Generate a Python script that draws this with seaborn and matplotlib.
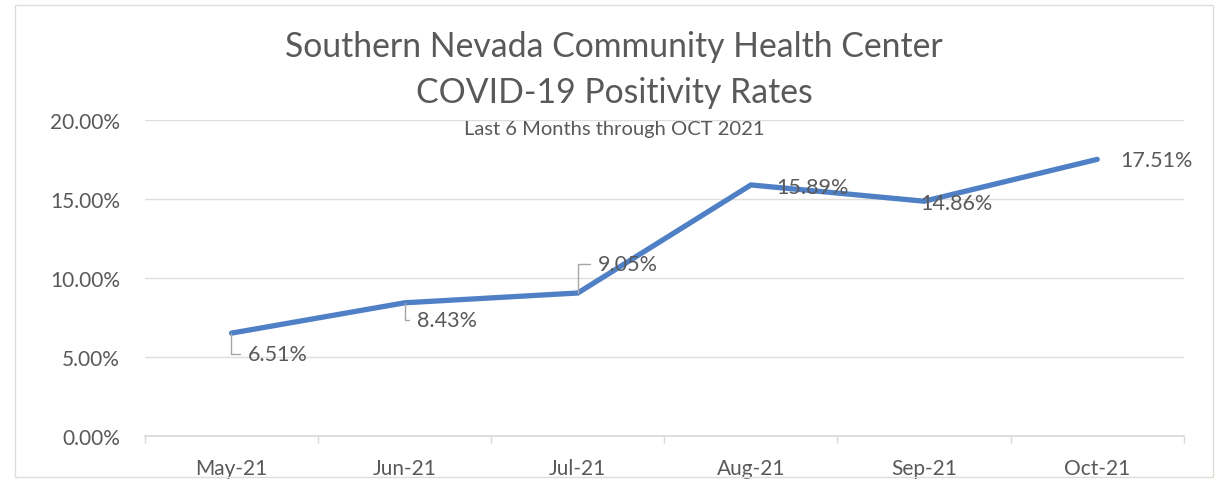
import matplotlib
matplotlib.use("Agg")
import matplotlib.pyplot as plt
import seaborn as sns
import pandas as pd
from matplotlib.patches import Rectangle
from matplotlib.ticker import FuncFormatter, FixedLocator

months = ["May-21", "Jun-21", "Jul-21", "Aug-21", "Sep-21", "Oct-21"]
rates = [6.51, 8.43, 9.05, 15.89, 14.86, 17.51]
# label offsets (pixels) and whether a leader line is drawn
label_dx = [16, 12, 20, 25, -4, 23]
label_dy = [-21, -17, 29, -2, -2, -1]
leaders = [True, True, True, False, False, False]

df = pd.DataFrame({"Month": months, "Rate": rates, "pos": range(len(months))})

sns.set_theme(style="white")
plt.rcParams["font.family"] = ["Lato", "DejaVu Sans"]
grey = "#595959"

fig = plt.figure(figsize=(12.28, 4.85), dpi=100)
ax = fig.add_axes([0.118, 0.099, 0.846, 0.6515])

sns.lineplot(data=df, x="pos", y="Rate", ax=ax, color="#4f80c6", linewidth=3.8,
             solid_capstyle="round", solid_joinstyle="miter")

ax.set_xlim(-0.5, len(months) - 0.5)
ax.set_ylim(0, 20)
ax.yaxis.set_major_locator(FixedLocator([0, 5, 10, 15, 20]))
ax.yaxis.set_major_formatter(FuncFormatter(lambda v, p: f"{v:.2f}%"))
ax.set_xticks(range(len(months)))
ax.set_xticklabels(months)
ax.set_xticks([i + 0.5 for i in range(-1, len(months))], minor=True)
ax.tick_params(axis="x", which="major", length=0, pad=16, labelsize=15, labelcolor=grey)
ax.tick_params(axis="x", which="minor", length=5, color="#d9d9d9", bottom=True)
ax.tick_params(axis="y", length=0, pad=18, labelsize=15, labelcolor=grey)
ax.set_xlabel("")
ax.set_ylabel("")
ax.grid(axis="y", color="#e0dcd8", linewidth=1)
for s in ["top", "right", "left"]:
    ax.spines[s].set_visible(False)
ax.spines["bottom"].set_color("#d9d9d9")

for i, (v, dx, dy, ld) in enumerate(zip(rates, label_dx, label_dy, leaders)):
    kw = {}
    if ld:
        kw["arrowprops"] = dict(arrowstyle="-", color="#a6a6a6", lw=1,
                                shrinkA=3, shrinkB=0,
                                connectionstyle="angle,angleA=0,angleB=90,rad=0")
    ax.annotate(f"{v:.2f}%", xy=(i, v), xytext=(dx, dy), textcoords="offset pixels",
                ha="left", va="center", fontsize=15.5, color=grey, **kw)

fig.text(0.5, 0.903, "Southern Nevada Community Health Center", ha="center", va="center",
         fontsize=24.3, color=grey)
fig.text(0.5, 0.808, "COVID-19 Positivity Rates", ha="center", va="center",
         fontsize=24.3, color=grey)
fig.text(0.5, 0.734, "Last 6 Months through OCT 2021", ha="center", va="center",
         fontsize=14.5, color=grey)

fig.patches.append(Rectangle((0.012, 0.015), 0.976, 0.973, transform=fig.transFigure,
                             fill=False, edgecolor="#e0dcd8", linewidth=1))

fig.savefig("out.png", dpi=100)
